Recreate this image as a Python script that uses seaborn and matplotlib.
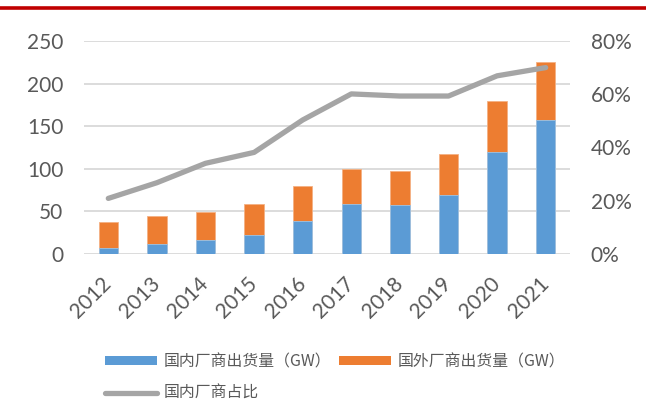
import matplotlib
matplotlib.use("Agg")
import matplotlib.pyplot as plt
import seaborn as sns
import pandas as pd
from matplotlib.lines import Line2D
from matplotlib.patches import Patch
from matplotlib.ticker import FuncFormatter

years = ["2012", "2013", "2014", "2015", "2016", "2017", "2018", "2019", "2020", "2021"]
domestic = [7, 11, 16, 22, 39, 59, 57, 69, 119, 157]
foreign = [30, 33, 33, 37, 40, 41, 40, 48, 61, 68]
share = [20.8, 26.7, 34.0, 38.1, 50.3, 60.1, 59.3, 59.3, 66.9, 70.0]

label_dom = "国内厂商出货量（GW）"
label_for = "国外厂商出货量（GW）"
label_share = "国内厂商占比"

sns.set_theme(style="white")
plt.rcParams['font.family'] = ['Lato', 'Noto Sans CJK SC', 'DejaVu Sans']

BLUE = "#5B9BD5"
ORANGE = "#ED7D31"
GRAY = "#A5A5A5"
TXT = "#595959"

df = pd.DataFrame({"year": years, "domestic": domestic, "foreign": foreign, "share": share})
df["total"] = df["domestic"] + df["foreign"]

fig = plt.figure(figsize=(6.46, 4.03), dpi=100)
ax = fig.add_axes([84/646, 1-253.7/403, (570-84)/646, (253.7-41)/403])

sns.barplot(data=df, x="year", y="total", color=ORANGE, width=0.4, ax=ax,
            edgecolor="#F4B183", linewidth=0.6, saturation=1)
sns.barplot(data=df, x="year", y="domestic", color=BLUE, width=0.4, ax=ax,
            edgecolor="#9DC3E6", linewidth=0.6, saturation=1)

ax.set_ylim(0, 250)
ax.set_xlim(-0.5, 9.5)
ax.set_yticks([0, 50, 100, 150, 200, 250])
ax.yaxis.grid(True, color="#D9D9D9", linewidth=1.3)
ax.set_axisbelow(True)
for s in ax.spines.values():
    s.set_visible(False)
ax.set_xlabel("")
ax.set_ylabel("")
ax.tick_params(axis="y", length=0, pad=15, labelsize=15, labelcolor=TXT)
ax.tick_params(axis="x", length=0, pad=19, labelsize=15, labelcolor=TXT)
for lbl in ax.get_xticklabels():
    lbl.set_rotation(45)
    lbl.set_ha("right")
    lbl.set_va("center")
    lbl.set_rotation_mode("anchor")

ax2 = ax.twinx()
sns.lineplot(data=df, x="year", y="share", color=GRAY, linewidth=3.8, ax=ax2,
             solid_capstyle="round", sort=False)
ax2.set_ylim(0, 80)
ax2.set_yticks([0, 20, 40, 60, 80])
ax2.yaxis.set_major_formatter(FuncFormatter(lambda v, p: f"{int(v)}%"))
ax2.tick_params(axis="y", length=0, pad=15, labelsize=15, labelcolor=TXT)
ax2.set_ylabel("")
for s in ax2.spines.values():
    s.set_visible(False)
ax.set_xlim(-0.5, 9.5)

# red rule at top
fig.add_artist(Line2D([0, 1], [1-7.5/403, 1-7.5/403], color="#C00000", linewidth=2.6,
                      transform=fig.transFigure))

handles = [Patch(facecolor=BLUE, edgecolor="none"),
           Line2D([0], [0], color=GRAY, linewidth=3.8, solid_capstyle="round"),
           Patch(facecolor=ORANGE, edgecolor="none")]
labels = [label_dom, label_share, label_for]
leg = fig.legend(handles, labels, ncol=2, loc="upper left",
                 bbox_to_anchor=(105/646, 1-353/403), frameon=False,
                 prop={"family": ["Noto Sans CJK SC", "DejaVu Sans"], "size": 11.4},
                 handlelength=3.3, handleheight=0.5, handletextpad=0.4,
                 columnspacing=0.5, labelspacing=0.95, labelcolor=TXT,
                 borderpad=0, borderaxespad=0)

fig.savefig("out.png", dpi=100)
